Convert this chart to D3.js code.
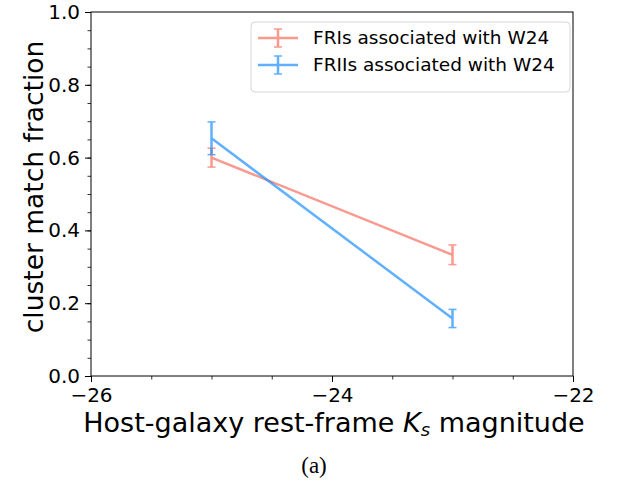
<!DOCTYPE html>
<html>
<head>
<meta charset="utf-8">
<script src="https://cdn.jsdelivr.net/npm/d3@7"></script>
<style>
  body { margin: 0; background: #fff; }
  text { font-family: "DejaVu Sans", sans-serif; fill: #000; }
</style>
</head>
<body>
<div id="chart"></div>
<script>
// values
var magnitudes = [-25, -23];
var friFraction = [0.60, 0.333];
var friError = [0.026, 0.027];
var friiFraction = [0.653, 0.158];
var friiError = [0.045, 0.025];
var seriesNames = ["FRIs associated with W24", "FRIIs associated with W24"];
var xTicks = [-26, -24, -22];
var yTicks = [0, 0.2, 0.4, 0.6, 0.8, 1.0];

var W = 624, H = 486;
var margin = { top: 12, right: 51, bottom: 110, left: 91 },
    width = W - margin.left - margin.right,
    height = H - margin.top - margin.bottom;

var svg = d3.select("#chart").append("svg")
    .attr("width", W)
    .attr("height", H);

var g = svg.append("g")
    .attr("transform", "translate(" + margin.left + "," + margin.top + ")");

var x = d3.scaleLinear().domain([-26, -22]).range([0, width]);
var y = d3.scaleLinear().domain([0, 1]).range([height, 0]);

// axes
var fmtX = function (d) { return String(d).replace("-", "\u2212"); };
var xAxis = g.append("g")
    .attr("transform", "translate(0," + height + ")")
    .call(d3.axisBottom(x).tickValues(xTicks).tickFormat(fmtX).tickSize(6).tickPadding(6));
var xMinor = g.append("g")
    .attr("transform", "translate(0," + height + ")")
    .call(d3.axisBottom(x).tickValues(d3.range(-26, -21.9, 0.5)).tickFormat("").tickSize(3.5));

var yAxis = g.append("g")
    .call(d3.axisLeft(y).tickValues(yTicks).tickFormat(d3.format(".1f")).tickSize(6).tickPadding(5));
var yMinor = g.append("g")
    .call(d3.axisLeft(y).tickValues(d3.range(0, 1.001, 0.05)).tickFormat("").tickSize(3.5));

[xAxis, yAxis].forEach(function (a) {
  a.select(".domain").remove();
  a.attr("font-family", null);
  a.selectAll("text").style("font-size", "20px");
  a.selectAll("line").attr("stroke", "#000").attr("stroke-width", 1);
});
[xMinor, yMinor].forEach(function (a) {
  a.select(".domain").remove();
  a.selectAll("line").attr("stroke", "#000").attr("stroke-width", 0.8);
});

// frame
g.append("rect")
    .attr("width", width)
    .attr("height", height)
    .attr("fill", "none")
    .attr("stroke", "#000")
    .attr("stroke-width", 1);

// series
var series = [
  { name: seriesNames[0], vals: friFraction, errs: friError, color: "#fa8072", op: 0.8 },
  { name: seriesNames[1], vals: friiFraction, errs: friiError, color: "#1e90ff", op: 0.7 }
];

series.forEach(function (s) {
  var pts = magnitudes.map(function (m, i) { return { x: m, y: s.vals[i], e: s.errs[i] }; });
  var sg = g.append("g").attr("opacity", s.op);
  sg.append("path")
      .datum(pts)
      .attr("fill", "none")
      .attr("stroke", s.color)
      .attr("stroke-width", 2.5)
      .attr("d", d3.line().x(function (d) { return x(d.x); }).y(function (d) { return y(d.y); }));
  sg.selectAll(".err")
      .data(pts)
      .enter().append("line")
      .attr("x1", function (d) { return x(d.x); })
      .attr("x2", function (d) { return x(d.x); })
      .attr("y1", function (d) { return y(d.y - d.e); })
      .attr("y2", function (d) { return y(d.y + d.e); })
      .attr("stroke", s.color)
      .attr("stroke-width", 2.5);
  pts.forEach(function (d) {
    [d.y - d.e, d.y + d.e].forEach(function (v) {
      sg.append("line")
          .attr("x1", x(d.x) - 4).attr("x2", x(d.x) + 4)
          .attr("y1", y(v)).attr("y2", y(v))
          .attr("stroke", s.color)
          .attr("stroke-width", 1.5);
    });
  });
});

// legend
var lg = g.append("g").attr("transform", "translate(" + (width - 322) + ",10)");
lg.append("rect")
    .attr("width", 319)
    .attr("height", 70)
    .attr("rx", 4)
    .attr("fill", "#fff")
    .attr("fill-opacity", 0.8)
    .attr("stroke", "#d6d6d6");
series.forEach(function (s, i) {
  var yy = 16 + i * 27;
  var eg = lg.append("g").attr("opacity", s.op);
  eg.append("line").attr("x1", 7).attr("x2", 47).attr("y1", yy).attr("y2", yy)
      .attr("stroke", s.color).attr("stroke-width", 2.5);
  eg.append("line").attr("x1", 27).attr("x2", 27).attr("y1", yy - 9).attr("y2", yy + 9)
      .attr("stroke", s.color).attr("stroke-width", 2.5);
  eg.append("line").attr("x1", 23).attr("x2", 31).attr("y1", yy - 9).attr("y2", yy - 9)
      .attr("stroke", s.color).attr("stroke-width", 1.5);
  eg.append("line").attr("x1", 23).attr("x2", 31).attr("y1", yy + 9).attr("y2", yy + 9)
      .attr("stroke", s.color).attr("stroke-width", 1.5);
  lg.append("text")
      .attr("x", 62)
      .attr("y", yy + 6)
      .style("font-size", "18.5px")
      .text(s.name);
});

// axis labels
var xl = svg.append("text")
    .attr("x", 334)
    .attr("y", 432)
    .attr("text-anchor", "middle")
    .style("font-size", "27px");
xl.append("tspan").text("Host-galaxy rest-frame ");
xl.append("tspan").style("font-style", "italic").text("K");
xl.append("tspan").style("font-style", "italic").style("font-size", "18px").attr("dy", 4).text("s");
xl.append("tspan").attr("dy", -4).text(" magnitude");

svg.append("text")
    .attr("transform", "translate(43,187) rotate(-90)")
    .attr("text-anchor", "middle")
    .style("font-size", "26.5px")
    .text("cluster match fraction");

svg.append("text")
    .attr("x", 314)
    .attr("y", 473)
    .attr("text-anchor", "middle")
    .style("font-family", "Liberation Serif, serif")
    .style("font-size", "23px")
    .text("(a)");
</script>
</body>
</html>
